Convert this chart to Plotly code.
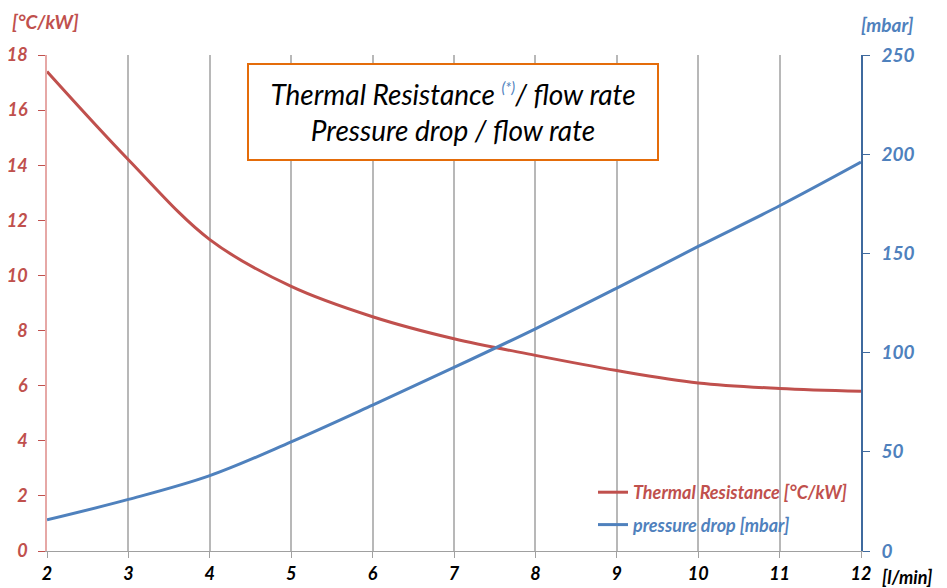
import plotly.graph_objects as go

flow = [2, 3, 4, 5, 6, 7, 8, 9, 10, 11, 12]
thermal_resistance = [17.4, 14.2, 11.3, 9.6, 8.5, 7.7, 7.1, 6.55, 6.1, 5.9, 5.8]
pressure_drop = [15.7, 26.0, 38.0, 55.0, 73.5, 92.5, 112.0, 132.5, 153.5, 174.0, 196.0]
left_ticks = [0, 2, 4, 6, 8, 10, 12, 14, 16, 18]
right_ticks = [0, 50, 100, 150, 200, 250]

RED = "#C0504D"
BLUE = "#4F81BD"
FONT = "Lato"

# page body has an 8px default margin; plot area wanted at x 47..861, y 55..551
fig = go.Figure()
fig.add_trace(go.Scatter(
    x=flow, y=thermal_resistance, mode="lines", line=dict(color=RED, width=3, shape="spline"),
    name=f"<span style='color:{RED}'>Thermal Resistance [°C/kW]</span>", yaxis="y",
    legendgroup="a"))
fig.add_trace(go.Scatter(
    x=flow, y=pressure_drop, mode="lines", line=dict(color=BLUE, width=3, shape="spline"),
    name=f"<span style='color:{BLUE}'>pressure drop [mbar]</span>", yaxis="y2",
    legendgroup="b"))

fig.update_layout(
    width=939, height=580,
    margin=dict(l=39, r=86, t=47, b=37, autoexpand=False),
    plot_bgcolor="white", paper_bgcolor="white",
    font=dict(family=FONT),
    xaxis=dict(
        range=[2, 12], tickvals=flow, ticktext=[str(v) for v in flow],
        showgrid=True, gridcolor="#B8B8B8", gridwidth=1.5,
        showline=True, linecolor="#A0A0A0", linewidth=1,
        ticks="outside", ticklen=6, tickcolor="#A0A0A0",
        tickfont=dict(family=FONT, size=18, color="black", weight="bold", style="italic"),
        zeroline=False, automargin=False,
    ),
    yaxis=dict(
        range=[0, 18], tickvals=left_ticks, showgrid=False, zeroline=False,
        showline=True, linecolor="#E6A8A6", linewidth=1.5,
        ticks="outside", ticklen=7, tickcolor=RED,
        tickfont=dict(family=FONT, size=18, color=RED, weight="bold", style="italic"),
        ticklabelstandoff=7, automargin=False,
    ),
    yaxis2=dict(
        range=[0, 250], tickvals=right_ticks, overlaying="y", side="right",
        showgrid=False, zeroline=False,
        showline=True, linecolor="#3F6A9E", linewidth=1.5,
        ticks="outside", ticklen=7, tickcolor="#3F6A9E",
        tickfont=dict(family=FONT, size=19, color=BLUE, weight="bold", style="italic"),
        ticklabelstandoff=8, automargin=False,
    ),
    legend=dict(
        x=(593 - 47) / 814, y=(551 - 474) / 496, xanchor="left", yanchor="top",
        bgcolor="rgba(0,0,0,0)", tracegroupgap=6,
        font=dict(family=FONT, size=18, style="italic", weight="bold"),
    ),
    showlegend=True,
)

fig.add_annotation(
    xref="paper", yref="paper", x=(453 - 47) / 814, y=(551 - 63) / 496,
    text=(f"Thermal Resistance <sup><span style='color:{BLUE};font-size:15px'>(*)</span></sup>/ flow rate"
          "<br>Pressure drop / flow rate"),
    showarrow=False, align="center",
    font=dict(family=FONT, size=28, color="black", style="italic"),
    bordercolor="#E46C0A", borderwidth=2, borderpad=12, bgcolor="white",
    width=384, height=70,
)
fig.add_annotation(xref="paper", yref="paper", x=(10 - 47) / 814, y=(551 - 22) / 496,
                   text="[°C/kW]", showarrow=False, xanchor="left", yanchor="middle",
                   font=dict(family=FONT, size=19, color=RED, weight="bold", style="italic"))
fig.add_annotation(xref="paper", yref="paper", x=(859 - 47) / 814, y=(551 - 24) / 496,
                   text="[mbar]", showarrow=False, xanchor="left", yanchor="middle",
                   font=dict(family=FONT, size=19, color=BLUE, weight="bold", style="italic"))
fig.add_annotation(xref="paper", yref="paper", x=(880 - 47) / 814, y=-(577 - 551) / 496,
                   text="[l/min]", showarrow=False, xanchor="left", yanchor="middle",
                   font=dict(family=FONT, size=18, color="black", weight="bold", style="italic"))

fig.write_html("out.html")
